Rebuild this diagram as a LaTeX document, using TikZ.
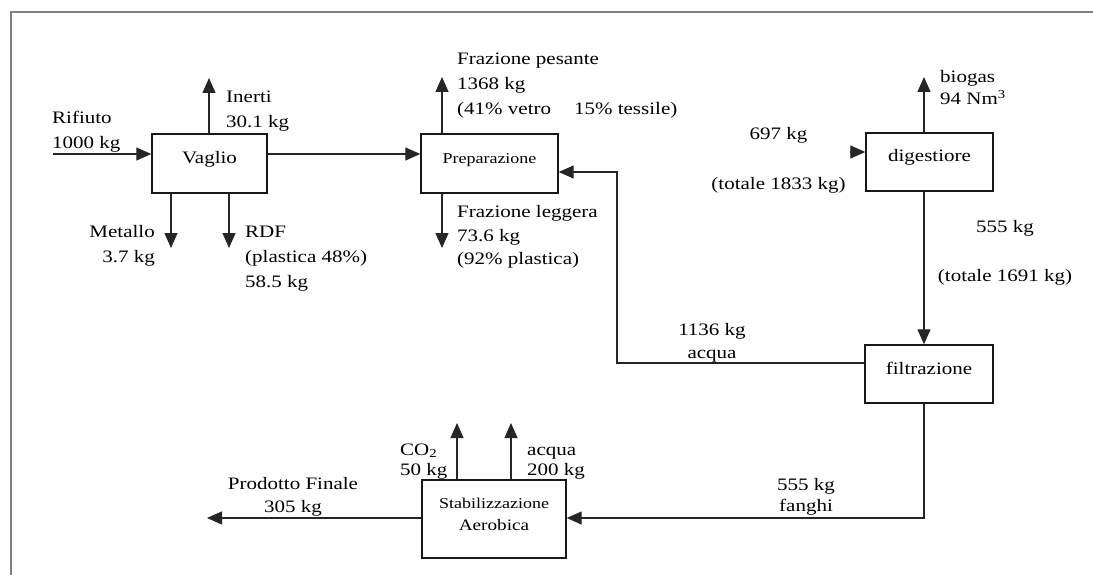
\documentclass[tikz,border=0pt]{standalone}
\usepackage{fontspec}
\setmainfont{Liberation Serif}[FakeStretch=1.2]
\usetikzlibrary{arrows.meta}
\newcommand{\mylines}[2]{\begin{tabular}[t]{@{}#1@{}}#2\end{tabular}}
\newcommand{\boxtext}[1]{\raisebox{0pt}[0pt][0pt]{#1}}
\begin{document}
\begin{tikzpicture}[x=1pt,y=-1pt,
  bs/.style={font=\fontsize{17.5}{#1}\selectfont},
  lbl/.style={inner sep=0pt, text=black, anchor=base west, bs=24},
  box/.style={draw=black!90, line width=1.4pt, fill=white, inner sep=0pt, text=black, font=\fontsize{17.5}{22}\selectfont},
  arr/.style={draw=black!85, line width=1.3pt, -{Triangle[length=15pt,width=13pt]}},
  frame/.style={draw=black!50, line width=1.5pt}]
\useasboundingbox (0,0) rectangle (1093,575);
\draw[frame] (1093,12) -- (11,12) -- (11,575);

% boxes
\node[box, minimum width=115pt, minimum height=59pt] (vaglio) at (209.5,163.5) {\boxtext{Vaglio}};
\node[box, minimum width=137pt, minimum height=59pt, font=\fontsize{15}{20}\selectfont] (prep) at (489.5,163.5) {\boxtext{Preparazione}};
\node[box, minimum width=127pt, minimum height=58pt] (dig) at (929.5,162) {\boxtext{digestiore}};
\node[box, minimum width=128pt, minimum height=58pt] (filt) at (929,374) {\boxtext{filtrazione}};
\node[box, minimum width=144pt, minimum height=78pt, font=\fontsize{16}{22}\selectfont] (stab) at (494,519)
  {\raisebox{11pt}[0pt][0pt]{\mylines{c}{{\fontsize{15}{22}\selectfont Stabilizzazione}\\Aerobica}}};

% free ends
\coordinate (rifIn) at (53,154);
\coordinate (inertiTip) at (209,78);
\coordinate (metTip) at (171,248);
\coordinate (rdfTip) at (229,248);
\coordinate (pesTip) at (442,77);
\coordinate (legTip) at (442,248);
\coordinate (digIn) at (850,152);
\coordinate (bioTip) at (924,77);
\coordinate (ret) at (617,363);
\coordinate (retTop) at (617,172);
\coordinate (fango) at (924,518);
\coordinate (prodTip) at (207,518);
\coordinate (co2Tip) at (457,423);
\coordinate (acqTip) at (511,423);

% connectors
\draw[arr] (rifIn) -- (rifIn -| vaglio.west);
\draw[arr] (inertiTip |- vaglio.north) -- (inertiTip);
\draw[arr] (metTip |- vaglio.south) -- (metTip);
\draw[arr] (rdfTip |- vaglio.south) -- (rdfTip);
\draw[arr] (rifIn -| vaglio.east) -- (rifIn -| prep.west);
\draw[arr] (pesTip |- prep.north) -- (pesTip);
\draw[arr] (legTip |- prep.south) -- (legTip);
\draw[arr] (digIn) -- (digIn -| dig.west);
\draw[arr] (bioTip |- dig.north) -- (bioTip);
\draw[arr] (bioTip |- dig.south) -- (bioTip |- filt.north);
\draw[arr] (ret -| filt.west) -- (ret) -- (retTop) -- (retTop -| prep.east);
\draw[arr] (fango |- filt.south) -- (fango) -- (fango -| stab.east);
\draw[arr] (stab.west |- prodTip) -- (prodTip);
\draw[arr] (co2Tip |- stab.north) -- (co2Tip);
\draw[arr] (acqTip |- stab.north) -- (acqTip);

% labels
\node[lbl, bs=25] (rifL) at (52,124) {\mylines{l}{Rifiuto\\1000 kg}};
\node[lbl, bs=25] (inertiL) at (226,103) {\mylines{l}{Inerti\\30.1 kg}};
\node[lbl, bs=25, anchor=base east] (metL) at (155,237) {\mylines{r}{Metallo\\3.7 kg}};
\node[lbl, bs=25] (rdfL) at (245,237) {\mylines{l}{RDF\\(plastica 48\%)\\58.5 kg}};
\node[lbl, bs=25] (pesL) at (457,65) {\mylines{l}{Frazione pesante\\1368 kg\\(41\% vetro\hspace{23pt}15\% tessile)}};
\node[lbl, bs=23.5] (legL) at (457,218) {\mylines{l}{Frazione leggera\\73.6 kg\\(92\% plastica)}};
\node[lbl, bs=22] (bioL) at (940,83) {\mylines{l}{biogas\\94 Nm\textsuperscript{3}}};
\node[lbl, bs=25, anchor=base] (d697L) at (778.5,140) {\mylines{c}{697 kg\\ \\(totale 1833 kg)}};
\node[lbl, bs=24.5, anchor=base] (d555L) at (1005,233) {\mylines{c}{555 kg\\ \\(totale 1691 kg)}};
\node[lbl, bs=23, anchor=base] (retL) at (712,335) {\mylines{c}{1136 kg\\acqua}};
\node[lbl, bs=21, anchor=base] (fanL) at (806,490) {\mylines{c}{555 kg\\fanghi}};
\node[lbl, bs=20] (co2L) at (400,455) {\mylines{l}{CO\textsubscript{2}\\50 kg}};
\node[lbl, bs=20] (acqL) at (527,455) {\mylines{l}{acqua\\200 kg}};
\node[lbl, bs=23, anchor=base] (prodL) at (293,489) {\mylines{c}{Prodotto Finale\\305 kg}};
\end{tikzpicture}
\end{document}
